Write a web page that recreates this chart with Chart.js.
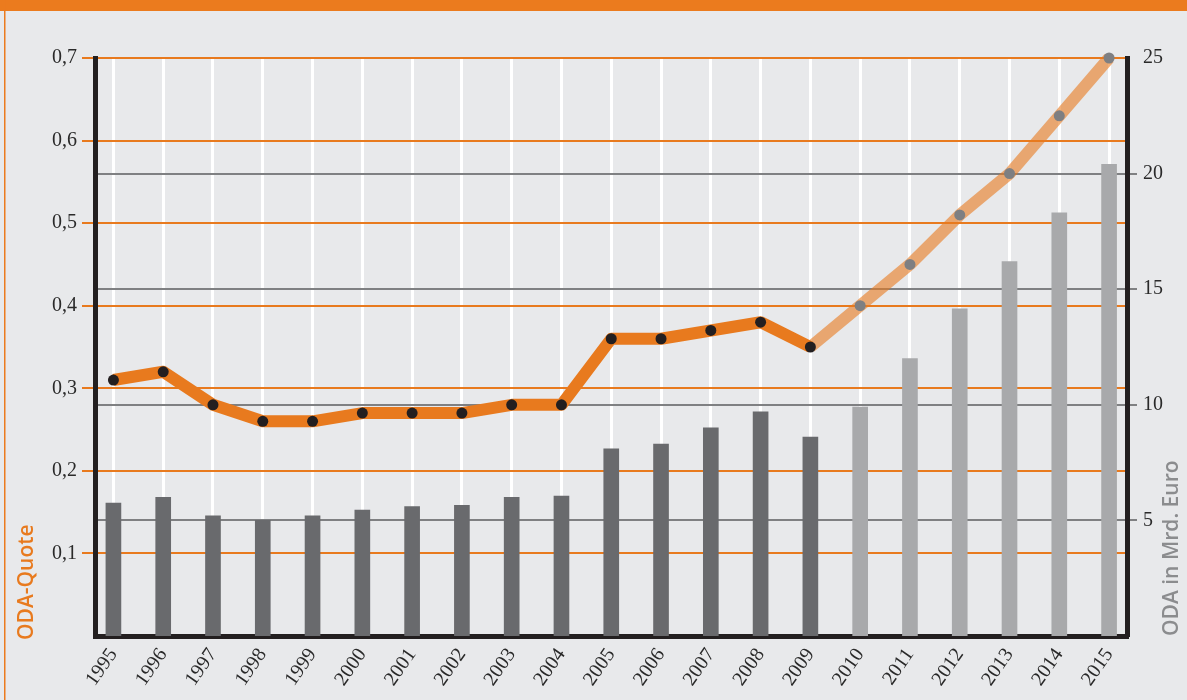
<!DOCTYPE html>
<html lang="de">
<head>
<meta charset="utf-8">
<title>ODA-Quote und ODA in Mrd. Euro</title>
<script src="https://cdn.jsdelivr.net/npm/chart.js@4/dist/chart.umd.min.js"></script>
<style>
  html, body { margin: 0; padding: 0; background: #e8e9eb; }
  canvas { display: block; }
</style>
</head>
<body>
<canvas id="oda" width="1187" height="700"></canvas>
<script>
// Werte
const years = [1995, 1996, 1997, 1998, 1999, 2000, 2001, 2002, 2003, 2004, 2005,
  2006, 2007, 2008, 2009, 2010, 2011, 2012, 2013, 2014, 2015];
const odaQuote = [0.31, 0.32, 0.28, 0.26, 0.26, 0.27, 0.27, 0.27, 0.28, 0.28, 0.36,
  0.36, 0.37, 0.38, 0.35, 0.40, 0.45, 0.51, 0.56, 0.63, 0.70];
const odaMrdEuro = [5.75, 6.0, 5.2, 5.0, 5.2, 5.45, 5.6, 5.65, 6.0, 6.05, 8.1,
  8.3, 9.0, 9.7, 8.6, 9.9, 12.0, 14.15, 16.2, 18.3, 20.4];
const quoteTicks = [0.1, 0.2, 0.3, 0.4, 0.5, 0.6, 0.7];
const euroTicks = [5, 10, 15, 20, 25];
const firstPlanYear = 2010;

const ORANGE = '#e87a1e';
const ORANGE_LIGHT = 'rgba(232, 122, 30, 0.6)';
const BLACK = '#231f20';
const GREY_DARK = '#696a6d';
const GREY_LIGHT = '#a8a9ab';
const GREY_POINT = '#7e7f82';
const GREY_GRID = '#7f8082';
const serif = { family: "'Liberation Serif', 'DejaVu Serif', serif", size: 20 };

const isPlan = y => y >= firstPlanYear;
const planStart = years.indexOf(firstPlanYear) - 1;

// Banner oben, Rahmenlinie links, Achsentitel (beide von unten nach oben)
const frame = {
  id: 'frame',
  afterDraw(chart) {
    const ctx = chart.ctx;
    ctx.save();
    ctx.fillStyle = '#eb7b1e';
    ctx.fillRect(0, 0, chart.width, 11);
    ctx.fillRect(4, 0, 1.5, chart.height);

    ctx.font = "600 21px 'Open Sans', sans-serif";
    ctx.textAlign = 'left';
    ctx.textBaseline = 'middle';

    ctx.translate(27, 640);
    ctx.rotate(-Math.PI / 2);
    ctx.fillStyle = ORANGE;
    ctx.fillText('ODA-Quote', 0, 0);
    ctx.restore();

    ctx.save();
    ctx.font = "600 21px 'Open Sans', sans-serif";
    ctx.textAlign = 'left';
    ctx.textBaseline = 'middle';
    ctx.translate(1172, 636);
    ctx.rotate(-Math.PI / 2);
    ctx.fillStyle = '#8b8c8e';
    ctx.fillText('ODA in Mrd. Euro', 0, 0);
    ctx.restore();
  }
};

new Chart(document.getElementById('oda'), {
  data: {
    datasets: [
      {
        type: 'line',
        label: 'ODA-Quote',
        yAxisID: 'y',
        data: years.map((y, i) => ({ x: y, y: odaQuote[i] })),
        borderColor: ORANGE,
        borderWidth: 12,
        borderJoinStyle: 'round',
        tension: 0,
        clip: false,
        segment: {
          borderColor: c => (c.p0DataIndex >= planStart ? ORANGE_LIGHT : ORANGE),
        },
        pointRadius: 5.5,
        pointBorderWidth: 0,
        pointBackgroundColor: years.map(y => (isPlan(y) ? GREY_POINT : BLACK)),
        order: 0,
      },
      {
        type: 'bar',
        label: 'ODA in Mrd. Euro',
        yAxisID: 'y1',
        data: years.map((y, i) => ({ x: y, y: odaMrdEuro[i] })),
        backgroundColor: years.map(y => (isPlan(y) ? GREY_LIGHT : GREY_DARK)),
        barThickness: 15,
        order: 1,
      },
    ],
  },
  options: {
    responsive: false,
    animation: false,
    devicePixelRatio: 1,
    layout: { padding: { top: 58, left: 0, right: 0, bottom: 0 } },
    plugins: {
      legend: { display: false },
      tooltip: { enabled: false },
    },
    scales: {
      x: {
        type: 'linear',
        offset: false,
        min: 1994.63,
        max: 2015.36,
        afterBuildTicks: s => { s.ticks = years.map(v => ({ value: v })); },
        afterFit: s => { s.height = 64; },
        grid: { color: '#ffffff', lineWidth: 3, drawTicks: false, offset: false, z: -2 },
        border: { color: BLACK, width: 5 },
        ticks: {
          color: '#2a2a2a',
          font: serif,
          autoSkip: false,
          minRotation: 55,
          maxRotation: 55,
          padding: 8,
          callback: v => String(v),
        },
      },
      y: {
        position: 'left',
        min: 0,
        max: 0.7,
        afterBuildTicks: s => { s.ticks = quoteTicks.map(v => ({ value: v })); },
        afterFit: s => { s.width = 95; },
        grid: { color: ORANGE, lineWidth: 2, tickLength: 13 },
        border: { color: BLACK, width: 5 },
        ticks: {
          color: '#2a2a2a',
          font: serif,
          padding: 5,
          callback: v => v.toFixed(1).replace('.', ','),
        },
      },
      y1: {
        position: 'right',
        min: 0,
        max: 25,
        afterBuildTicks: s => { s.ticks = euroTicks.map(v => ({ value: v })); },
        afterFit: s => { s.width = 60; },
        grid: {
          color: c => (c.tick && c.tick.value === 25 ? 'rgba(0,0,0,0)' : GREY_GRID),
          lineWidth: 2,
          tickLength: 10,
        },
        border: { color: BLACK, width: 5 },
        ticks: {
          color: '#2a2a2a',
          font: serif,
          padding: 6,
          callback: v => String(v),
        },
      },
    },
  },
  plugins: [frame],
});
</script>
</body>
</html>
